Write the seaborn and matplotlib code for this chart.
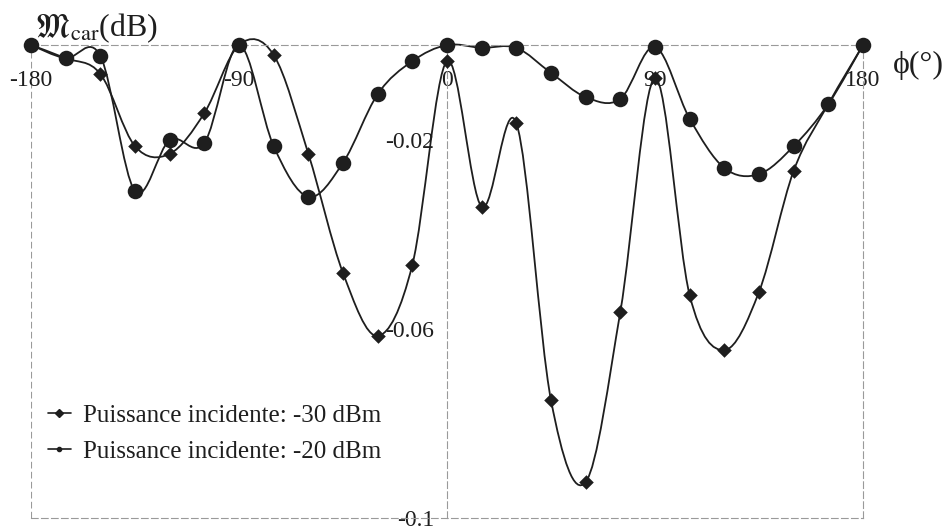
import numpy as np
import matplotlib
matplotlib.use("Agg")
import matplotlib.pyplot as plt
import seaborn as sns
import pandas as pd
from matplotlib.path import Path
from matplotlib.patches import PathPatch
from matplotlib.lines import Line2D

# angle (deg) and ripple (dB)
phi = [-180, -165, -150, -135, -120, -105, -90, -75, -60, -45, -30, -15,
       0, 15, 30, 45, 60, 75, 90, 105, 120, 135, 150, 165, 180]
p_m30 = [0.0, -0.0028, -0.0061, -0.0214, -0.0230, -0.0144, 0.0, -0.0021,
         -0.0230, -0.0482, -0.0615, -0.0465, -0.0034, -0.0342, -0.0165,
         -0.0751, -0.0924, -0.0564, -0.0070, -0.0529, -0.0645, -0.0522,
         -0.0266, -0.0125, 0.0]
p_m20 = [0.0, -0.0028, -0.0023, -0.0309, -0.0201, -0.0207, 0.0, -0.0214,
         -0.0321, -0.0249, -0.0104, -0.0034, 0.0, -0.0006, -0.0006,
         -0.0059, -0.0110, -0.0114, -0.0004, -0.0156, -0.0260, -0.0273,
         -0.0214, -0.0125, 0.0]
labels = ["Puissance incidente: -30 dBm", "Puissance incidente: -20 dBm"]

sns.set_style("white")
plt.rcParams["font.family"] = ["Liberation Serif", "DejaVu Serif"]
plt.rcParams["mathtext.fontset"] = "stix"

INK = "#1e1e1e"
GRID = "#9a9a9a"


def smooth_path(xs, ys):
    # Excel-like smoothed line: Catmull-Rom segments as cubic Bezier
    pts = np.column_stack([xs, ys]).astype(float)
    pad = np.vstack([pts[0], pts, pts[-1]])
    verts = [pts[0]]
    codes = [Path.MOVETO]
    for i in range(len(pts) - 1):
        p0, p1, p2, p3 = pad[i], pad[i + 1], pad[i + 2], pad[i + 3]
        verts += [p1 + (p2 - p0) / 6, p2 - (p3 - p1) / 6, p2]
        codes += [Path.CURVE4] * 3
    return Path(verts, codes)


fig = plt.figure(figsize=(9.49, 5.32), dpi=100)
ax = fig.add_axes([31 / 949, 1 - 518 / 532, 832 / 949, 473 / 532])

df = pd.DataFrame({"phi": phi * 2, "val": p_m30 + p_m20,
                   "serie": [labels[0]] * len(phi) + [labels[1]] * len(phi)})

for vals in (p_m30, p_m20):
    ax.add_patch(PathPatch(smooth_path(phi, vals), facecolor="none",
                           edgecolor=INK, lw=1.3, zorder=2, clip_on=False))

sns.scatterplot(data=df[df.serie == labels[0]], x="phi", y="val", marker="D",
                color=INK, s=55, linewidth=0, ax=ax, zorder=3, legend=False,
                clip_on=False)
sns.scatterplot(data=df[df.serie == labels[1]], x="phi", y="val", marker="o",
                color=INK, s=125, linewidth=0, ax=ax, zorder=4, legend=False,
                clip_on=False)

ax.set_xlim(-180, 180)
ax.set_ylim(-0.1, 0)
ax.set_xlabel("")
ax.set_ylabel("")

# y axis crosses at phi = 0, frame drawn dashed
for s in ("top", "bottom", "right"):
    ax.spines[s].set_linestyle((0, (6, 3)))
    ax.spines[s].set_color(GRID)
    ax.spines[s].set_linewidth(0.8)
ax.spines["left"].set_position(("data", 0))
ax.spines["left"].set_linestyle((0, (6, 3)))
ax.spines["left"].set_color(GRID)
ax.spines["left"].set_linewidth(0.8)
ax.axvline(-180, color=GRID, lw=0.8, ls=(0, (6, 3)), zorder=0)

ax.set_yticks([-0.1, -0.06, -0.02])
ax.set_yticklabels(["-0.1", "-0.06", "-0.02"])
ax.tick_params(axis="y", direction="out", length=7, width=0.8, color=GRID,
               labelsize=17, pad=2, labelcolor=INK)

ax.xaxis.set_ticks_position("top")
ax.set_xticks([-180, -90, 0, 90, 180])
ax.set_xticklabels(["-180", "-90", "0", "90", "180"])
ax.tick_params(axis="x", length=0, labelsize=17, pad=-33, labelcolor=INK)

fig.text(35 / 949, 1 - 36 / 532, r"$\mathfrak{M}_{\mathrm{car}}$(dB)",
         fontsize=23, color=INK, ha="left", va="baseline")
fig.text(893 / 949, 1 - 73 / 532, "ϕ(°)", fontsize=23, color=INK,
         ha="left", va="baseline")

handles = [Line2D([], [], color=INK, lw=1.2, marker="D", markersize=4),
           Line2D([], [], color=INK, lw=1.2, marker="o", markersize=3)]
fig.legend(handles, labels, loc="upper left", bbox_to_anchor=(38 / 949, 1 - 394 / 532),
           frameon=False, fontsize=18, handlelength=0.9, handletextpad=0.5,
           labelspacing=0.55, borderaxespad=0, labelcolor=INK)

fig.savefig("out.png", dpi=100)
